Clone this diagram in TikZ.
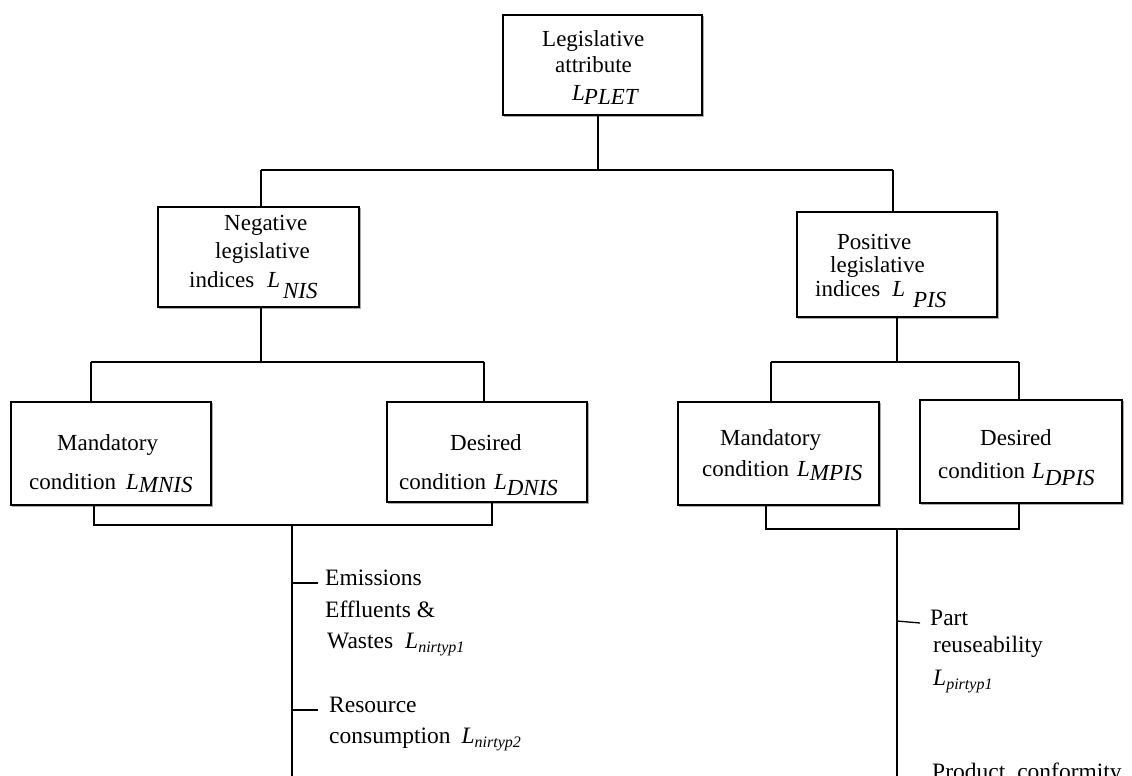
\documentclass[tikz,border=0pt]{standalone}
\usepackage{fontspec}
\setmainfont{Liberation Serif}
% L with a full-size lowered subscript: #1 kern, #2 drop, #3 text
\newcommand{\Lfull}[3]{\textit{L}\kern#1\raisebox{-#2}{\textit{#3}}}
% L with a small subscript
\newcommand{\Lsm}[1]{\textit{L}\raisebox{-4pt}{\fontsize{16}{16}\selectfont\itshape #1}}
\tikzset{
  box/.style={draw=black, line width=1.8pt, fill=white, inner sep=0pt,
    preaction={draw=gray!65, line width=0.9pt, transform canvas={shift={(1.8pt,-1.8pt)}}}},
  conn/.style={draw=black, line width=1.3pt},
  txt/.style={anchor=base west, inner sep=0pt, font=\fontsize{23}{27}\selectfont},
  lf/.style={anchor=base west, inner sep=0pt, font=\fontsize{23.5}{27}\selectfont}
}
\begin{document}
\begin{tikzpicture}[x=1pt,y=-1pt]
\useasboundingbox (0,0) rectangle (1132,776);
\clip (0,0) rectangle (1132,776);
\fill[white] (0,0) rectangle (1132,776);

% boxes
\node[box, minimum width=199pt, minimum height=100pt] (top) at (602.5,65) {};
\node[box, minimum width=201pt, minimum height=100pt] (neg) at (258.5,257) {};
\node[box, minimum width=200pt, minimum height=105pt] (pos) at (897,264.5) {};
\node[box, minimum width=200pt, minimum height=103pt] (mandl) at (111,453.5) {};
\node[box, minimum width=200pt, minimum height=100pt] (desl) at (487,452) {};
\node[box, minimum width=201pt, minimum height=103pt] (mandr) at (778.5,453.5) {};
\node[box, minimum width=202pt, minimum height=103pt] (desr) at (1021,451.5) {};

% box texts
\node[txt] (topa) at (542,47) {Legislative};
\node[txt] (topb) at (555,72) {attribute};
\node[txt] (topc) at (572,100) {\Lfull{-1pt}{4pt}{PLET}};

\node[txt] (nega) at (224,230) {Negative};
\node[txt] (negb) at (215,258) {legislative};
\node[txt] (negc) at (189,287) {indices\hspace{13pt}\Lfull{3pt}{11pt}{NIS}};

\node[txt] (posa) at (837,249) {Positive};
\node[txt] (posb) at (830,272) {legislative};
\node[txt] (posc) at (815,296) {indices\hspace{12pt}\Lfull{8pt}{11pt}{PIS}};

\node[txt] (mla) at (57,450) {Mandatory};
\node[txt] (mlb) at (29,489) {condition\hspace{10pt}\Lfull{0pt}{3pt}{MNIS}};

\node[txt] (dla) at (450,450) {Desired};
\node[txt] (dlb) at (399,489) {condition\hspace{8pt}\Lfull{0pt}{6pt}{DNIS}};

\node[txt] (mra) at (720,445) {Mandatory};
\node[txt] (mrb) at (702,476) {condition\hspace{8pt}\Lfull{0pt}{4pt}{MPIS}};

\node[txt] (dra) at (980,445) {Desired};
\node[txt] (drb) at (938,478) {condition\hspace{7pt}\Lfull{0pt}{7pt}{DPIS}};

% junction coordinates
\coordinate (j0) at (598,170);
\coordinate (jl) at (261,170);
\coordinate (jr) at (893,170);
\coordinate (k0) at (261,362);
\coordinate (kl) at (91,362);
\coordinate (kr) at (484,362);
\coordinate (m0) at (897,362);
\coordinate (ml) at (771,362);
\coordinate (mr) at (1019,362);
\coordinate (bl1) at (94,525);
\coordinate (bl2) at (492,525);
\coordinate (bl0) at (292,525);
\coordinate (blend) at (292,776);
\coordinate (br1) at (766,529);
\coordinate (br2) at (1019,529);
\coordinate (br0) at (897,529);
\coordinate (brend) at (897,776);
\coordinate (t1) at (292,583);
\coordinate (t1e) at (318,583);
\coordinate (t2) at (292,710);
\coordinate (t2e) at (318,710);
\coordinate (t3) at (897,621);
\coordinate (t3e) at (920,623);

% connectors
\draw[conn] (top.south -| j0) -- (j0);
\draw[conn] (jl) -- (jr);
\draw[conn] (jl) -- (neg.north -| jl);
\draw[conn] (jr) -- (pos.north -| jr);
\draw[conn] (neg.south -| k0) -- (k0);
\draw[conn] (kl) -- (kr);
\draw[conn] (kl) -- (mandl.north -| kl);
\draw[conn] (kr) -- (desl.north -| kr);
\draw[conn] (pos.south -| m0) -- (m0);
\draw[conn] (ml) -- (mr);
\draw[conn] (ml) -- (mandr.north -| ml);
\draw[conn] (mr) -- (desr.north -| mr);
\draw[conn] (mandl.south -| bl1) -- (bl1) -- (bl2) -- (desl.south -| bl2);
\draw[conn] (bl0) -- (blend);
\draw[conn] (mandr.south -| br1) -- (br1) -- (br2) -- (desr.south -| br2);
\draw[conn] (br0) -- (brend);
\draw[conn] (t1) -- (t1e);
\draw[conn] (t2) -- (t2e);
\draw[conn] (t3) -- (t3e);

% leaf labels
\node[lf] (em1) at (325,585) {Emissions};
\node[lf] (em2) at (325,617) {Effluents \&};
\node[lf] (em3) at (327,648) {Wastes\hspace{12pt}\Lsm{nirtyp1}};
\node[lf] (rs1) at (329,712) {Resource};
\node[lf] (rs2) at (329,743) {consumption\hspace{11pt}\Lsm{nirtyp2}};
\node[lf] (pr1) at (930,625) {Part};
\node[lf] (pr2) at (933,652) {reuseability};
\node[lf] (pr3) at (933,685) {\Lsm{pirtyp1}};
\node[lf] (pc1) at (932,779) {Product\hspace{12pt}conformity};
\end{tikzpicture}
\end{document}
